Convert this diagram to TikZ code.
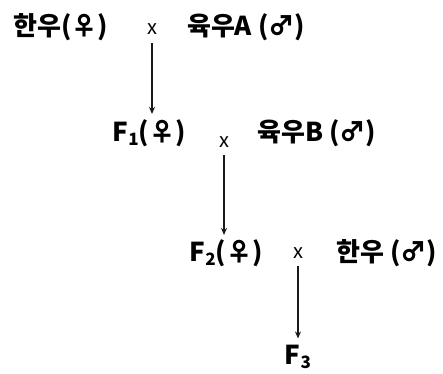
\documentclass[tikz,border=0pt]{standalone}
\usepackage{fontspec}
\setmainfont{Noto Sans CJK KR}
\usetikzlibrary{arrows.meta, positioning}
\newcommand{\gensub}[1]{\raisebox{-0.16em}{\fontsize{17}{17}\selectfont #1}}

\begin{document}
\begin{tikzpicture}[
  x=1pt, y=-1pt,
  pop/.style={font=\fontsize{26}{30}\selectfont\bfseries, inner sep=0pt, anchor=base},
  cross/.style={font=\fontsize{20}{24}\selectfont, inner sep=0pt, anchor=base},
  gen/.style={-{Stealth[length=7pt, width=6pt]}, line width=1.8pt, black!90},
]
\useasboundingbox (0,0) rectangle (443,373);

% first cross
\node[pop] (p0f) at (61,35) {한우(♀)};
\node[cross] (x1) at (152,34) {x};
\node[pop] (p0m) at (246,35) {육우A (♂)};

% second cross
\node[pop] (f1) at (149,141) {F\gensub{1}(♀)};
\node[cross] (x2) at (224,147) {x};
\node[pop] (p1m) at (317,141) {육우B (♂)};

% third cross
\node[pop] (f2) at (226,261) {F\gensub{2}(♀)};
\node[cross] (x3) at (298,258) {x};
\node[pop] (p2m) at (387,261) {한우 (♂)};

% offspring
\node[pop] (f3) at (298,364) {F\gensub{3}};

% generations
\draw[gen] ([yshift=-9pt]x1.south) -- ([yshift=5pt]x1.south |- f1.north);
\draw[gen] ([yshift=-8pt]x2.south) -- ([yshift=4pt]x2.south |- f2.north);
\draw[gen] ([yshift=-8pt]x3.south) -- ([yshift=6pt]x3.south |- f3.north);
\end{tikzpicture}
\end{document}
